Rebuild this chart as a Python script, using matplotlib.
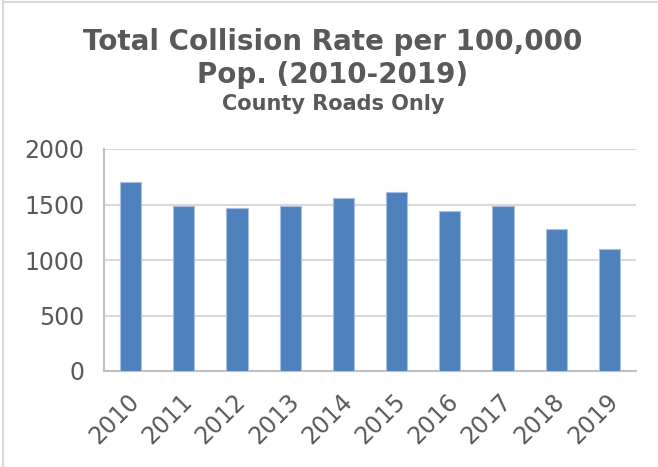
import matplotlib
matplotlib.use("Agg")
import matplotlib.pyplot as plt
import matplotlib.transforms as mtransforms
from matplotlib.lines import Line2D

# data
years = ['2010', '2011', '2012', '2013', '2014', '2015', '2016', '2017', '2018', '2019']
collision_rate = [1700, 1485, 1470, 1485, 1555, 1610, 1440, 1485, 1275, 1095]
y_ticks = [0, 500, 1000, 1500, 2000]

title_line1 = 'Total Collision Rate per 100,000'
title_line2 = 'Pop. (2010-2019)'
subtitle = 'County Roads Only'

TEXT = '#595959'
BAR = '#4F81BD'

W, H = 658, 467
fig = plt.figure(figsize=(W / 100, H / 100), dpi=100)
fig.patch.set_facecolor('white')

ax = fig.add_axes([104 / W, (H - 371) / H, (636 - 104) / W, (371 - 149) / H])

x = list(range(len(years)))
ax.bar(x, collision_rate, width=0.4, color=BAR, edgecolor='#A7C0DE', linewidth=0.8, zorder=3)

ax.set_xlim(-0.5, len(years) - 0.5)
ax.set_ylim(0, 2000)
ax.set_yticks(y_ticks)
ax.set_yticklabels([str(v) for v in y_ticks], fontsize=17, color=TEXT)
ax.set_xticks(x)
ax.set_xticklabels(years, fontsize=17, color=TEXT, rotation=45, ha='right',
                   va='center', rotation_mode='anchor')
ax.tick_params(axis='y', length=0, pad=14)
ax.tick_params(axis='x', length=0, pad=19)

# nudge the rotated year labels a little to the right
shift = mtransforms.ScaledTranslation(5 / 100, 0, fig.dpi_scale_trans)
for lab in ax.get_xticklabels():
    lab.set_transform(lab.get_transform() + shift)

ax.grid(axis='y', color='#D9D9D9', linewidth=1.5, zorder=0)
for s in ['top', 'right']:
    ax.spines[s].set_visible(False)
for s in ['left', 'bottom']:
    ax.spines[s].set_color('#BFBFBF')
    ax.spines[s].set_linewidth(1.5)

# titles (positions from baseline in pixels)
cx = 333 / W
fig.text(cx, 1 - 50 / H, title_line1, ha='center', va='baseline', fontsize=20,
         fontweight='bold', color=TEXT)
fig.text(cx, 1 - 83 / H, title_line2, ha='center', va='baseline', fontsize=20,
         fontweight='bold', color=TEXT)
fig.text(cx, 1 - 110 / H, subtitle, ha='center', va='baseline', fontsize=15,
         fontweight='bold', color=TEXT)

# chart frame (left and top edges visible in the crop)
fig.add_artist(Line2D([3 / W, 3 / W], [0, 1 - 1 / H], transform=fig.transFigure,
                      color='#D9D9D9', linewidth=1.5))
fig.add_artist(Line2D([3 / W, 1], [1 - 1.5 / H, 1 - 1.5 / H], transform=fig.transFigure,
                      color='#D9D9D9', linewidth=1.5))

fig.savefig('out.png', dpi=100)
